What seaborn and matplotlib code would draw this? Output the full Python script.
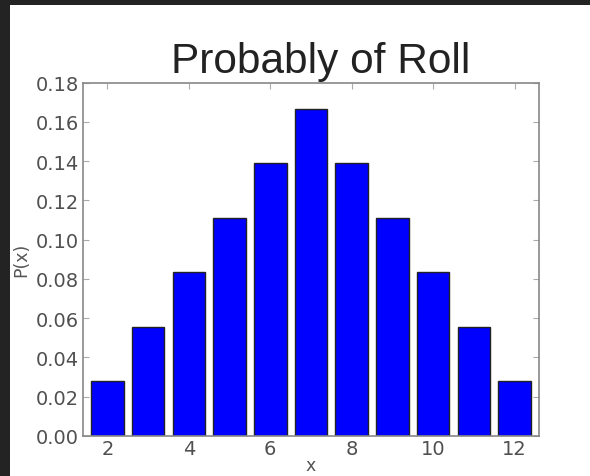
import matplotlib
matplotlib.use("Agg")
import matplotlib.pyplot as plt
from matplotlib.patches import Rectangle
import seaborn as sns
import pandas as pd

rolls = [2, 3, 4, 5, 6, 7, 8, 9, 10, 11, 12]
probs = [0.0278, 0.0556, 0.0833, 0.1111, 0.1389, 0.1667,
         0.1389, 0.1111, 0.0833, 0.0556, 0.0278]
xticks = [2, 4, 6, 8, 10, 12]
yticks = [0.00, 0.02, 0.04, 0.06, 0.08, 0.10, 0.12, 0.14, 0.16, 0.18]

df = pd.DataFrame({"x": rolls, "P": probs})

sns.set_style("white")
plt.rcParams["font.family"] = ["DejaVu Sans"]

fig = plt.figure(figsize=(5.90, 4.77), dpi=100)
fig.patch.set_facecolor("#232323")
fig.add_artist(Rectangle((10 / 590, 0), 1, (477 - 6) / 477,
                         transform=fig.transFigure, facecolor="white",
                         edgecolor="none", zorder=-10))
ax = fig.add_axes([83 / 590, 1 - 437 / 477, (539 - 83) / 590, (437 - 83.5) / 477])

sns.barplot(data=df, x="x", y="P", native_scale=True, width=0.8,
            color="#0000ff", saturation=1, edgecolor="#222222",
            linewidth=1.0, ax=ax)

ax.set_xlim(1.4, 12.6)
ax.set_ylim(0, 0.18)
ax.set_xticks(xticks)
ax.set_xticklabels([str(t) for t in xticks])
ax.set_yticks(yticks)
ax.set_yticklabels([f"{t:.2f}" for t in yticks])

for s in ax.spines.values():
    s.set_visible(True)
    s.set_color("#888888")
    s.set_linewidth(1.2)

ax.tick_params(axis="both", which="both", direction="in", length=4,
               width=0.8, color="#aaaaaa", labelsize=14, labelcolor="#505050",
               top=True, right=True, bottom=True, left=True, pad=3)
ax.tick_params(axis="x", pad=2)

ax.set_xlabel("x", fontsize=12.5, color="#555555", labelpad=-1)
ax.set_ylabel("P(x)", fontsize=12.5, color="#555555", labelpad=4)
ax.set_title("Probably of Roll", fontsize=30.5, color="#222222",
             family="Liberation Sans", pad=7.5, x=0.5 + 10 / 456)

fig.savefig("out.png", dpi=100, facecolor=fig.get_facecolor())
